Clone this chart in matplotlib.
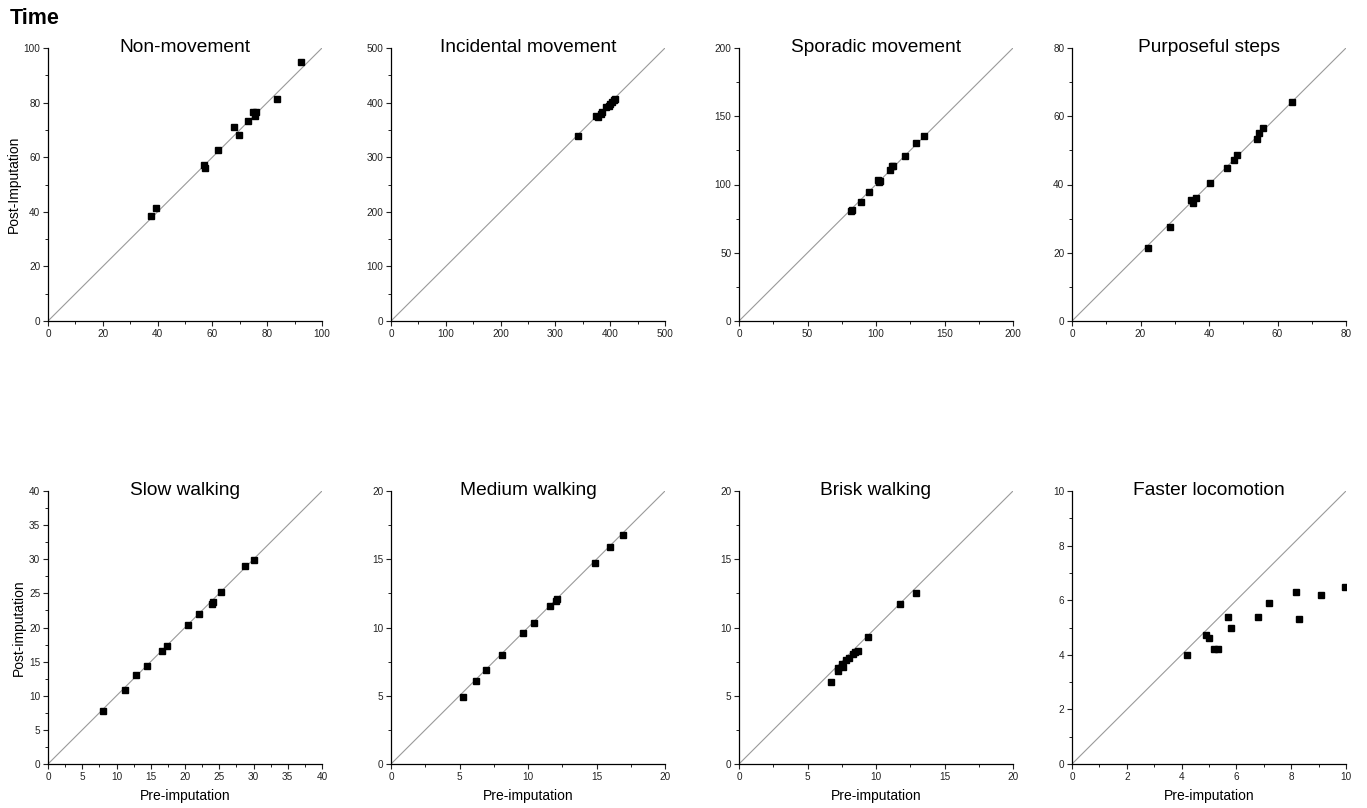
import numpy as np
import matplotlib
matplotlib.use('Agg')
import matplotlib.pyplot as plt
from matplotlib.ticker import AutoMinorLocator

plt.rcParams['font.family'] = ['Liberation Sans', 'DejaVu Sans']

# panel titles and axis limits
titles = ['Non-movement', 'Incidental movement', 'Sporadic movement', 'Purposeful steps',
          'Slow walking', 'Medium walking', 'Brisk walking', 'Faster locomotion']
limits = [100, 500, 200, 80, 40, 20, 20, 10]
steps = [20, 100, 50, 20, 5, 5, 5, 2]

# pre-imputation (x) and post-imputation (y) values
non_pre = [37.5, 39.4, 56.9, 57.4, 62.2, 68.0, 69.8, 73.0, 74.7, 75.8, 75.4, 83.6, 92.5]
non_post = [38.4, 41.4, 57.3, 56.0, 62.5, 71.2, 68.1, 73.1, 76.4, 76.4, 75.1, 81.3, 94.9]

inc_pre = [340.6, 374, 377, 383, 385, 392, 397, 399.4, 403, 407, 409]
inc_post = [339.4, 374.7, 374, 380, 382, 392, 393.5, 398, 401, 404.5, 407.5]

spo_pre = [82, 82.5, 88.8, 94.9, 101.7, 102, 102.7, 110.2, 111.4, 112.7, 121.4, 129, 135]
spo_post = [80.8, 81.3, 87.1, 94.2, 103.4, 101.5, 102.2, 110.7, 113.4, 113.9, 120.9, 130.2, 135.3]

pur_pre = [22.1, 28.7, 34.7, 35.3, 36.2, 40.4, 45.2, 47.3, 48.3, 54.0, 54.6, 55.9, 64.3]
pur_post = [21.5, 27.6, 35.5, 34.5, 36.0, 40.4, 44.7, 47.3, 48.7, 53.2, 55.2, 56.6, 64.1]

slow_pre = [8.0, 11.3, 12.9, 14.5, 16.6, 17.3, 20.4, 22.1, 23.9, 24.1, 25.3, 28.8, 30.0]
slow_post = [7.7, 10.9, 13.1, 14.3, 16.5, 17.3, 20.4, 22.0, 23.5, 23.7, 25.2, 29.0, 29.9]

med_pre = [5.27, 6.17, 6.97, 8.09, 9.67, 10.47, 11.57, 12.08, 12.15, 14.87, 15.99, 16.96]
med_post = [4.89, 6.1, 6.9, 8.0, 9.6, 10.3, 11.6, 11.95, 12.1, 14.7, 15.9, 16.8]

bri_pre = [6.69, 7.2, 7.23, 7.49, 7.59, 7.79, 8.0, 8.3, 8.49, 8.71, 9.39, 11.78, 12.92]
bri_post = [6.0, 6.8, 7.03, 7.32, 7.1, 7.59, 7.79, 8.03, 8.2, 8.3, 9.32, 11.7, 12.5]

fas_pre = [4.2, 4.9, 5.0, 5.19, 5.32, 5.69, 5.79, 6.78, 7.18, 8.18, 8.3, 9.09, 9.98]
fas_post = [4.0, 4.72, 4.61, 4.21, 4.21, 5.4, 5.0, 5.4, 5.9, 6.3, 5.3, 6.2, 6.5]

pre = [non_pre, inc_pre, spo_pre, pur_pre, slow_pre, med_pre, bri_pre, fas_pre]
post = [non_post, inc_post, spo_post, pur_post, slow_post, med_post, bri_post, fas_post]

fig = plt.figure(figsize=(13.67, 8.08), dpi=100)

lefts = [48, 391, 739, 1072]   # pixel positions of the axes
bottoms = [321, 764]
W, H = 1367, 808
aw, ah = 274, 273

for i in range(8):
    r, c = divmod(i, 4)
    ax = fig.add_axes([lefts[c] / W, 1 - bottoms[r] / H, aw / W, ah / H])
    lim = limits[i]
    ax.plot([0, lim], [0, lim], color='#9a9a9a', lw=0.8, zorder=1)
    ax.plot(pre[i], post[i], ls='none', marker='s', ms=3.9, color='black', zorder=3)
    ax.set_xlim(0, lim)
    ax.set_ylim(0, lim)
    ticks = np.arange(0, lim + steps[i] / 2, steps[i])
    ax.set_xticks(ticks)
    ax.set_yticks(ticks)
    ax.xaxis.set_minor_locator(AutoMinorLocator(2))
    ax.yaxis.set_minor_locator(AutoMinorLocator(2))
    for side in ['top', 'right']:
        ax.spines[side].set_visible(False)
    for side in ['left', 'bottom']:
        ax.spines[side].set_linewidth(0.9)
    ax.tick_params(which='major', direction='out', length=3.5, width=0.8,
                   labelsize=7.2, colors='#222222', pad=2)
    ax.tick_params(which='minor', direction='out', length=2, width=0.7, colors='#222222')
    ax.text(0.5, 1.0, titles[i], transform=ax.transAxes, ha='center', va='center',
            fontsize=13.8)
    if r == 1:
        ax.set_xlabel('Pre-imputation', fontsize=10, labelpad=5)

fig.axes[0].set_ylabel('Post-Imputation', fontsize=10, labelpad=2)
fig.axes[4].set_ylabel('Post-imputation', fontsize=10, labelpad=2)

fig.text(10 / W, 1 - 18 / H, 'Time', fontsize=15.5, fontweight='bold', ha='left', va='center')

fig.savefig('out.png', dpi=100)
